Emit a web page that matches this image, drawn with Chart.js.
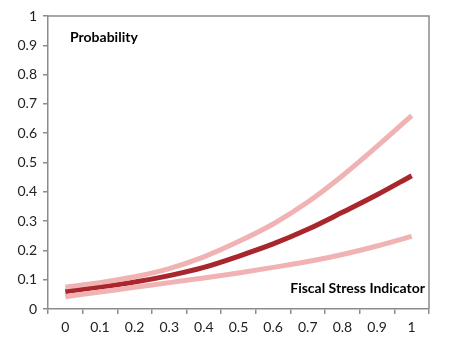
<!DOCTYPE html>
<html>
<head>
<meta charset="utf-8">
<script src="https://cdn.jsdelivr.net/npm/chart.js@4"></script>
<style>
  body { margin: 0; background: #fff; }
</style>
</head>
<body>
<canvas id="stressChart" width="449" height="351"></canvas>
<script>
const stressLevels = ['0', '0.1', '0.2', '0.3', '0.4', '0.5', '0.6', '0.7', '0.8', '0.9', '1'];
const probability = [0.06, 0.075, 0.092, 0.114, 0.142, 0.18, 0.222, 0.272, 0.33, 0.39, 0.455];
const upperBand = [0.075, 0.09, 0.11, 0.138, 0.178, 0.23, 0.29, 0.365, 0.455, 0.555, 0.66];
const lowerBand = [0.042, 0.058, 0.074, 0.09, 0.106, 0.123, 0.142, 0.162, 0.186, 0.215, 0.248];
const yTicks = [0, 0.1, 0.2, 0.3, 0.4, 0.5, 0.6, 0.7, 0.8, 0.9, 1];

const axisGray = '#8c8c8c';
const tickFont = { family: 'Lato', size: 14 };

// frame on top and right plus the two inline captions
const framePlugin = {
    id: 'frame',
    afterDraw(chart) {
        const { ctx, chartArea: a } = chart;
        ctx.save();
        ctx.strokeStyle = axisGray;
        ctx.lineWidth = 1.5;
        ctx.beginPath();
        ctx.moveTo(a.left, a.top);
        ctx.lineTo(a.right, a.top);
        ctx.lineTo(a.right, a.bottom);
        ctx.stroke();

        ctx.fillStyle = '#000';
        ctx.font = 'bold 14px Lato';
        ctx.textBaseline = 'middle';
        ctx.textAlign = 'left';
        ctx.fillText('Probability', a.left + 22, a.top + 21);
        ctx.textAlign = 'right';
        ctx.fillText('Fiscal Stress Indicator', a.right - 4, a.bottom - 21);
        ctx.restore();
    }
};

const lineStyle = (color) => ({
    borderColor: color,
    backgroundColor: color,
    borderWidth: 5,
    pointRadius: 0,
    fill: false,
    cubicInterpolationMode: 'monotone',
    borderCapStyle: 'butt'
});

new Chart(document.getElementById('stressChart'), {
    type: 'line',
    data: {
        labels: stressLevels,
        datasets: [
            { label: 'Upper', data: upperBand, ...lineStyle('#f0b2b2') },
            { label: 'Lower', data: lowerBand, ...lineStyle('#f0b2b2') },
            { label: 'Probability', data: probability, ...lineStyle('#a8262c') }
        ]
    },
    options: {
        responsive: false,
        animation: false,
        layout: { padding: { top: 16, right: 20, left: 0, bottom: 0 } },
        plugins: {
            legend: { display: false },
            tooltip: { enabled: false }
        },
        scales: {
            x: {
                type: 'category',
                offset: true,
                border: { color: axisGray, width: 1.5 },
                grid: { offset: true, drawOnChartArea: false, color: axisGray, tickLength: 5, lineWidth: 1.5 },
                ticks: { color: '#222', font: tickFont, padding: 5, maxRotation: 0 },
                afterFit(scale) { scale.height = 42; }
            },
            y: {
                min: 0,
                max: 1,
                afterBuildTicks(scale) { scale.ticks = yTicks.map(v => ({ value: v })); },
                border: { color: axisGray, width: 1.5 },
                grid: { drawOnChartArea: false, color: axisGray, tickLength: 5, lineWidth: 1.5 },
                ticks: {
                    color: '#222',
                    font: tickFont,
                    padding: 6,
                    callback: v => String(Math.round(v * 10) / 10)
                },
                afterFit(scale) { scale.width = 48; }
            }
        }
    },
    plugins: [framePlugin]
});
</script>
</body>
</html>
